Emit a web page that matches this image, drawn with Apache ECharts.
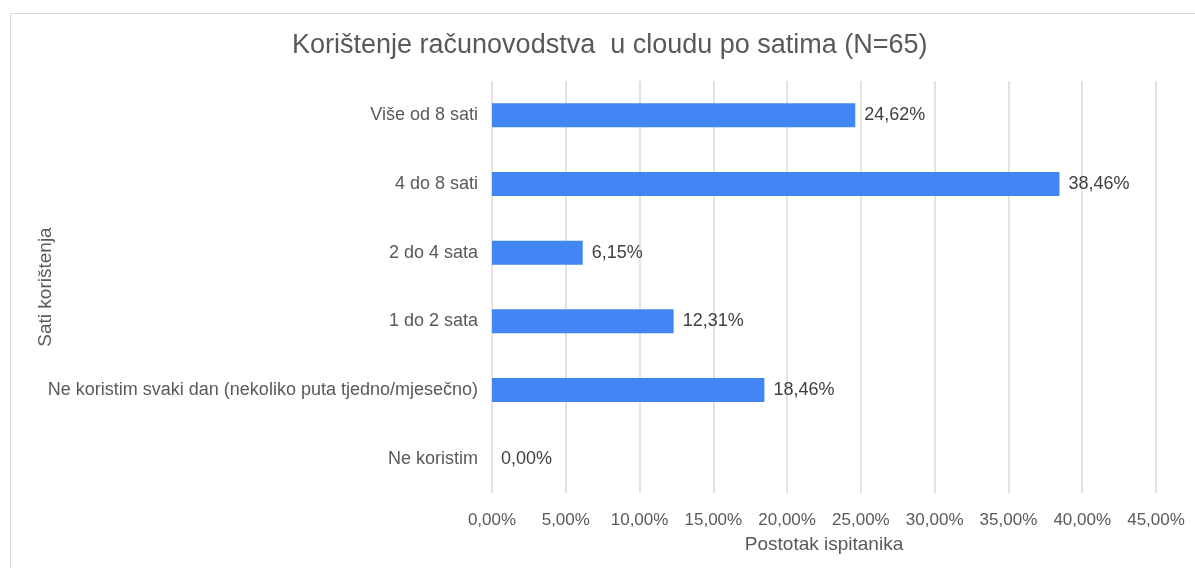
<!DOCTYPE html>
<html>
<head>
<meta charset="utf-8" />
<title>Korištenje računovodstva u cloudu po satima</title>
<style>
  html, body { margin: 0; padding: 0; background: #fff; }
  #chart { width: 1195px; height: 568px; }
</style>
</head>
<body>
<div id="chart"></div>
<script src="https://cdn.jsdelivr.net/npm/echarts@6/dist/echarts.min.js"></script>
<script>
// kategorije odozdo prema gore (kao u Excelu)
var categories = [
  'Ne koristim',
  'Ne koristim svaki dan (nekoliko puta tjedno/mjesečno)',
  '1 do 2 sata',
  '2 do 4 sata',
  '4 do 8 sati',
  'Više od 8 sati'
];
var values = [0.00, 18.46, 12.31, 6.15, 38.46, 24.62];
var xTicks = { min: 0, max: 45, interval: 5 };

function pct(v) {
  return v.toFixed(2).replace('.', ',') + '%';
}

var chart = echarts.init(document.getElementById('chart'));
chart.setOption({
  animation: false,
  textStyle: { fontFamily: 'Liberation Sans, Arial, sans-serif' },
  graphic: [{
    type: 'rect',
    left: 8, top: 11,
    shape: { width: 1210, height: 600 },
    style: { fill: 'none', stroke: '#d9d9d9', lineWidth: 1 },
    silent: true
  }],
  title: {
    text: 'Korištenje računovodstva  u cloudu po satima (N=65)',
    left: 287,
    top: 27,
    textStyle: { fontSize: 27, fontWeight: 'normal', color: '#595959' }
  },
  grid: { left: 492, right: 39, top: 81, bottom: 75 },
  xAxis: {
    type: 'value',
    min: xTicks.min, max: xTicks.max, interval: xTicks.interval,
    name: 'Postotak ispitanika',
    nameLocation: 'middle',
    nameGap: 42,
    nameTextStyle: { fontSize: 19, color: '#595959' },
    axisLine: { show: false },
    axisTick: { show: false },
    axisLabel: { formatter: pct, fontSize: 17, color: '#595959', margin: 19 },
    splitLine: { lineStyle: { color: '#d9d9d9', width: 1.5 } }
  },
  yAxis: {
    type: 'category',
    data: categories,
    name: 'Sati korištenja',
    nameLocation: 'middle',
    nameGap: 437,
    nameMoveOverlap: false,
    nameTextStyle: { fontSize: 19, color: '#595959' },
    axisLine: { show: false },
    axisTick: { show: false },
    axisLabel: { fontSize: 18, color: '#595959', margin: 14 }
  },
  series: [{
    type: 'bar',
    data: values,
    barWidth: 24,
    itemStyle: { color: '#4285f4' },
    label: {
      show: true,
      position: 'right',
      distance: 9,
      fontSize: 18,
      color: '#404040',
      formatter: function (p) { return pct(p.value); }
    }
  }]
});
</script>
</body>
</html>
